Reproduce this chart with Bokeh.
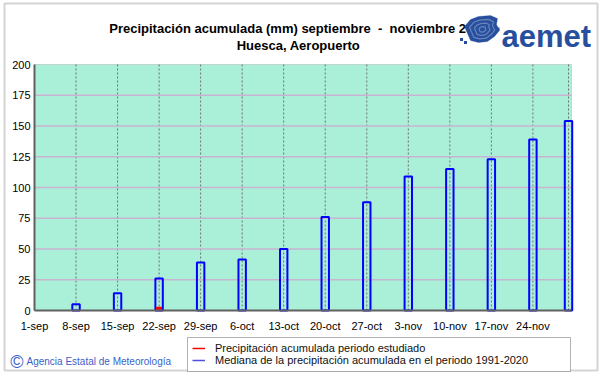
import pandas as pd
from bokeh.plotting import figure
from bokeh.models import (Range1d, FixedTicker, Label, Legend, LegendItem,
                          PolyAnnotation, BoxAnnotation)
from bokeh.embed import file_html
from bokeh.resources import INLINE

# ---------------- data ----------------
start_date = "2025-09-01"
tick_dates = ["2025-09-01", "2025-09-08", "2025-09-15", "2025-09-22", "2025-09-29",
              "2025-10-06", "2025-10-13", "2025-10-20", "2025-10-27", "2025-11-03",
              "2025-11-10", "2025-11-17", "2025-11-24"]
tick_labels = ["1-sep", "8-sep", "15-sep", "22-sep", "29-sep", "6-oct", "13-oct",
               "20-oct", "27-oct", "3-nov", "10-nov", "17-nov", "24-nov"]
end_date = "2025-11-30"

median_dates = ["2025-09-08", "2025-09-15", "2025-09-22", "2025-09-29", "2025-10-06",
                "2025-10-13", "2025-10-20", "2025-10-27", "2025-11-03", "2025-11-10",
                "2025-11-17", "2025-11-24", "2025-11-30"]
median_values = [5, 14, 26, 39, 41.5, 50, 76, 88, 109, 115, 123, 139, 154]

obs_dates = ["2025-09-08", "2025-09-15", "2025-09-22"]
obs_values = [0, 0, 3]

y_ticks = [0, 25, 50, 75, 100, 125, 150, 175, 200]
y_max = 200

title_1 = "Precipitación acumulada (mm) septiembre\u00a0 -\u00a0 noviembre 2025"
title_2 = "Huesca, Aeropuerto"
legend_obs = "Precipitación acumulada periodo estudiado"
legend_med = "Mediana de la precipitación acumulada en el periodo 1991-2020"
copyright_txt = "Agencia Estatal de Meteorología"

# ---------------- helpers ----------------
t0 = pd.Timestamp(start_date)
def day(d):
    return (pd.Timestamp(d) - t0).days

tick_days = [day(d) for d in tick_dates]
end_day = day(end_date)
median_days = [day(d) for d in median_dates]
obs_days = [day(d) for d in obs_dates]
x_right = end_day + 0.5

# ---------------- layout (pixels) ----------------
W, H = 601, 374
PLOT_L, PLOT_T, PLOT_B = 34, 64, 310        # plot area in page pixels
PX_DAY = 534 / end_day                       # pixels per day
PX_MM = (PLOT_B - PLOT_T) / y_max            # pixels per mm

FONT = "Liberation Sans"

p = figure(width=W, height=H, output_backend="svg", toolbar_location=None,
           title=None,
           x_range=Range1d(-PLOT_L / PX_DAY, (W - PLOT_L) / PX_DAY),
           y_range=Range1d(-(H - PLOT_B) / PX_MM, PLOT_B / PX_MM),
           min_border_left=0, min_border_right=0, min_border_top=0,
           min_border_bottom=0)
p.background_fill_color = "white"
p.border_fill_color = "white"
p.outline_line_color = None
p.xgrid.visible = False
p.ygrid.visible = False

def sx(px):
    return px
def sy(py):
    return H - py

# outer frame of the image
p.add_layout(BoxAnnotation(left=sx(4), right=sx(597), top=sy(3), bottom=sy(370),
                           left_units="screen", right_units="screen",
                           top_units="screen", bottom_units="screen",
                           fill_alpha=0, line_color="#707070", line_width=2))

# plot area background
p.add_layout(BoxAnnotation(left=0, right=x_right, bottom=0, top=y_max,
                           fill_color="#aaf0d8", fill_alpha=1,
                           line_color="#8c8c8c", line_width=1, level="underlay"))

# grid lines (drawn from the tick arrays)
grid_days = tick_days[1:] + [end_day]
p.segment(x0=grid_days, y0=[0] * len(grid_days), x1=grid_days,
          y1=[y_max] * len(grid_days), line_color="#707070", line_width=1,
          line_dash="2 2")
grid_y = y_ticks[1:-1]
p.segment(x0=[0] * len(grid_y), y0=grid_y, x1=[x_right] * len(grid_y), y1=grid_y,
          line_color="#c8b4d0", line_width=1.5)

# axes on fixed locations
p.xaxis.fixed_location = 0
p.yaxis.fixed_location = 0
p.xaxis.bounds = (0, x_right)
p.yaxis.bounds = (0, y_max)
p.xaxis.ticker = FixedTicker(ticks=tick_days)
p.xaxis.major_label_overrides = {d: lab for d, lab in zip(tick_days, tick_labels)}
p.yaxis.ticker = FixedTicker(ticks=y_ticks)
for ax in (p.xaxis, p.yaxis):
    ax.axis_line_color = "#606060"
    ax.axis_line_width = 2
    ax.major_tick_line_color = None
    ax.minor_tick_line_color = None
    ax.major_tick_out = 0
    ax.major_tick_in = 0
    ax.major_label_text_font = FONT
    ax.major_label_text_font_size = "11px"
    ax.major_label_text_color = "black"
p.xaxis.major_label_standoff = 9
p.yaxis.major_label_standoff = 4

# bars
p.vbar(x=median_days, top=median_values, bottom=0, width=1.25,
       fill_alpha=0, line_color="#0000ff", line_width=2)
p.vbar(x=obs_days, top=obs_values, bottom=0, width=1.0,
       fill_color="#ff0000", line_color=None)

# legend box + legend
p.add_layout(BoxAnnotation(left=sx(187), right=sx(570), top=sy(337), bottom=sy(371),
                           left_units="screen", right_units="screen",
                           top_units="screen", bottom_units="screen",
                           fill_color="white", fill_alpha=1,
                           line_color="black", line_width=1))
nan = float("nan")
r_obs = p.line(x=[nan], y=[nan], line_color="#ff0000", line_width=1.5)
r_med = p.line(x=[nan], y=[nan], line_color="#5050e0", line_width=1.5)
legend = Legend(items=[LegendItem(label=legend_obs, renderers=[r_obs]),
                       LegendItem(label=legend_med, renderers=[r_med])],
                location=(sx(192), sy(366)), orientation="vertical",
                border_line_alpha=0, background_fill_alpha=0,
                padding=0, spacing=0, margin=0,
                glyph_height=12, glyph_width=13, label_height=12,
                label_standoff=10, label_text_font=FONT,
                label_text_font_size="11px", label_text_color="#101010")
p.add_layout(legend)

# titles
for txt, py in [(title_1, 28), (title_2, 45)]:
    p.add_layout(Label(x=sx(298), y=sy(py), x_units="screen", y_units="screen",
                       text=txt, text_align="center", text_baseline="middle",
                       text_font=FONT, text_font_size="13px",
                       text_font_style="bold", text_color="black"))

# copyright
p.add_layout(Label(x=sx(16.5), y=sy(361), x_units="screen", y_units="screen",
                   text="©", text_align="center", text_baseline="middle",
                   text_font=FONT, text_font_size="18px", text_color="#3a5fc8"))
p.add_layout(Label(x=sx(26), y=sy(361), x_units="screen", y_units="screen",
                   text=copyright_txt, text_align="left", text_baseline="middle",
                   text_font=FONT, text_font_size="10px", text_color="#3a5fc8"))

# aemet logo (decoration)
LOGO = "#284f9e"
def poly(pts, **kw):
    p.add_layout(PolyAnnotation(xs=[sx(x) for x, _ in pts], ys=[sy(y) for _, y in pts],
                                xs_units="screen", ys_units="screen", **kw))

blob = [(478, 16), (490, 15), (497, 18), (496, 24), (499, 30), (494, 36), (487, 41),
        (478, 42), (470, 40), (467, 33), (464, 26), (470, 19)]
poly(blob, fill_color=LOGO, fill_alpha=1, line_color=LOGO, line_width=1)
cx, cy = 482, 29
for s in (0.72, 0.45, 0.2):
    ring = [(cx + (x - cx) * s, cy + (y - cy) * s) for x, y in blob]
    poly(ring, fill_alpha=0, line_color="white", line_width=1.2)
for dx, dy in [(461, 39), (465, 42), (497.5, 28.5)]:
    poly([(dx - 1.5, dy - 1.5), (dx + 1.5, dy - 1.5), (dx + 1.5, dy + 1.5),
          (dx - 1.5, dy + 1.5)], fill_color=LOGO, fill_alpha=1, line_color=None)
p.add_layout(Label(x=sx(501), y=sy(36), x_units="screen", y_units="screen",
                   text="aemet", text_align="left", text_baseline="alphabetic",
                   text_font=FONT, text_font_size="31px", text_font_style="bold",
                   text_color=LOGO))

open("out.html", "w").write(file_html(p, INLINE))
